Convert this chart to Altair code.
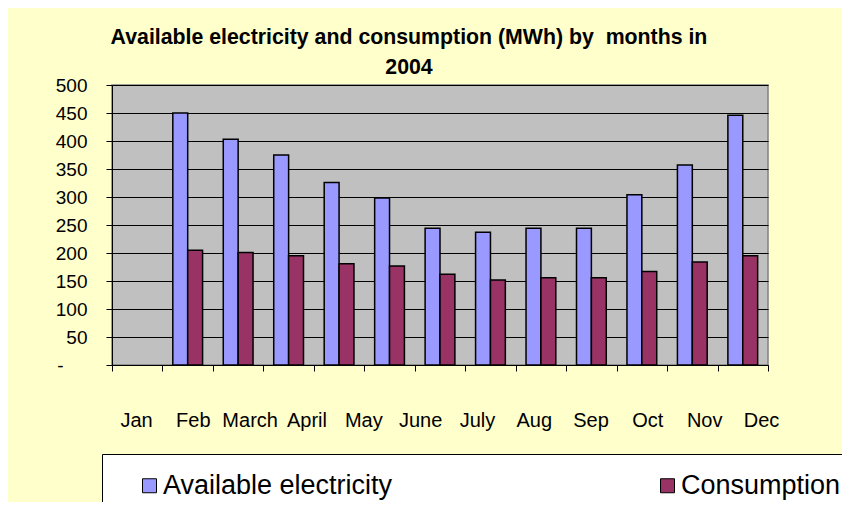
import altair as alt
import pandas as pd

# ---- data ----
months = ["Jan", "Feb", "March", "April", "May", "June", "July",
          "Aug", "Sep", "Oct", "Nov", "Dec"]
series = ["Available electricity", "Consumption"]
available = [450, 403, 375, 326, 298, 244, 237, 244, 244, 304, 357, 446]
consumption = [205, 201, 195, 181, 177, 162, 152, 156, 156, 167, 184, 195]
y_ticks = [0, 50, 100, 150, 200, 250, 300, 350, 400, 450, 500]
title_lines = ["Available electricity and consumption (MWh) by\u00a0 months in", "2004"]

# x slots of the category axis: one empty leading slot, then the 12 month groups
slots = [" "] + months

rows = []
for m, a, c in zip(months, available, consumption):
    rows.append({"month": m, "series": series[0], "value": a})
    rows.append({"month": m, "series": series[1], "value": c})
df = pd.DataFrame(rows)
labels_df = pd.DataFrame({"label": months})

FONT = "Liberation Sans"

bars = alt.Chart(df).mark_bar(stroke="black", strokeWidth=1.5).encode(
    x=alt.X(
        "month:N", sort=slots,
        scale=alt.Scale(domain=slots, paddingInner=0, paddingOuter=0),
        axis=alt.Axis(orient="bottom", labels=False, title=None, grid=False,
                      domainColor="black", domainWidth=1,
                      tickColor="black", tickSize=6, tickBand="extent"),
    ),
    xOffset=alt.XOffset("series:N", sort=series,
                        scale=alt.Scale(domain=series, paddingInner=0, paddingOuter=0.695)),
    y=alt.Y(
        "value:Q",
        scale=alt.Scale(domain=[0, 500], nice=False),
        axis=alt.Axis(values=y_ticks, title=None, grid=True, gridColor="black",
                      gridWidth=1, domainColor="black", tickColor="black",
                      tickSize=6, labelFont=FONT,
                      labelPadding={"condition": {"test": "datum.value == 0", "value": 43},
                                    "value": 19},
                      labelFontSize=19, labelColor="black",
                      labelExpr="datum.value == 0 ? '-' : datum.label"),
    ),
    color=alt.Color(
        "series:N", sort=series,
        scale=alt.Scale(domain=series, range=["#9999FF", "#993366"]),
        legend=alt.Legend(
            orient="none", legendX=-10, legendY=369, direction="horizontal",
            columns=2, title=None, fillColor="white", strokeColor="black",
            padding=18, symbolType="square", symbolSize=196,
            symbolStrokeColor="black", symbolStrokeWidth=1,
            symbolOffset=16, labelOffset=0, labelFont=FONT, labelFontSize=27,
            labelColor="black", columnPadding=245, labelLimit=400,
        ),
    ),
)

month_labels = alt.Chart(labels_df).mark_point(opacity=0).encode(
    x=alt.X(
        "label:N", sort=months,
        scale=alt.Scale(type="point", domain=months, range=[24, 649], padding=0),
        axis=alt.Axis(orient="bottom", title=None, domain=False, ticks=False,
                      tickSize=0, grid=False, labelPadding=45, labelFont=FONT,
                      labelFontSize=20, labelColor="black", labelAngle=0,
                      labelOverlap=False),
    )
)

chart = alt.layer(bars, month_labels).resolve_scale(x="independent").properties(
    width=656,
    height=280,
    autosize=alt.AutoSizeParams(type="none"),
    padding={"left": 104, "top": 77, "right": 74, "bottom": 137},
    background="#FFFFCC",
    title=alt.Title(
        text=title_lines, font=FONT, fontSize=21.3, fontWeight="bold",
        color="black", anchor="middle", frame="group", dx=-31, offset=-2,
        lineHeight=30,
    ),
).configure_view(fill="#C0C0C0", stroke="#808080", strokeWidth=1.5)

chart.save("out.html", embed_options={"renderer": "svg", "actions": False})
